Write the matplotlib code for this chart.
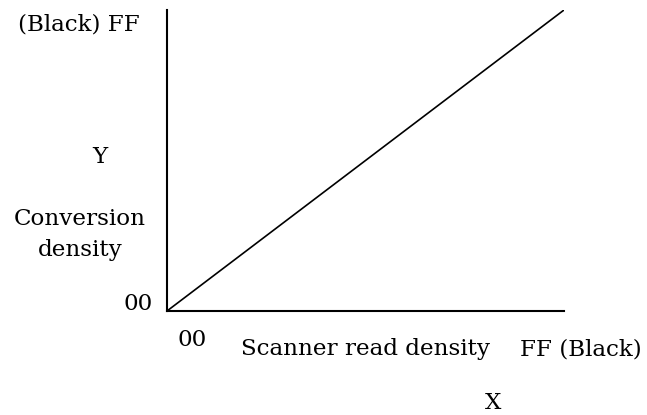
import matplotlib
matplotlib.use("Agg")
import matplotlib.pyplot as plt

# conversion curve: scanner read density -> conversion density (linear)
read_density = [0x00, 0xFF]
conv_density = [0x00, 0xFF]

W, H = 647, 415
plt.rcParams['font.family'] = ['DejaVu Serif']
FS = 16.6

fig = plt.figure(figsize=(W / 100, H / 100), dpi=100)
ax = fig.add_axes([167 / W, 1 - 311 / H, (564 - 167) / W, (311 - 10) / H])

ax.plot(read_density, conv_density, color='black', lw=1.2)
ax.set_xlim(0x00, 0xFF)
ax.set_ylim(0x00, 0xFF)
for s in ['top', 'right']:
    ax.spines[s].set_visible(False)
for s in ['left', 'bottom']:
    ax.spines[s].set_linewidth(1.5)
ax.set_xticks([])
ax.set_yticks([])


def px(x, y, s, **kw):
    # place text by pixel position in the figure
    fig.text(x / W, 1 - y / H, s, fontsize=FS, **kw)


px(140, 25, '(Black) FF', ha='right', va='center')
px(100, 157, 'Y', ha='center', va='center')
px(80, 219, 'Conversion', ha='center', va='center')
px(80, 250, 'density', ha='center', va='center')
px(153, 304, '00', ha='right', va='center')
px(192, 340, '00', ha='center', va='center')
px(241, 355, 'Scanner read density', ha='left', va='baseline')
px(642, 355, 'FF (Black)', ha='right', va='baseline')
px(493, 403, 'X', ha='center', va='center')

fig.savefig('out.png', dpi=100)
